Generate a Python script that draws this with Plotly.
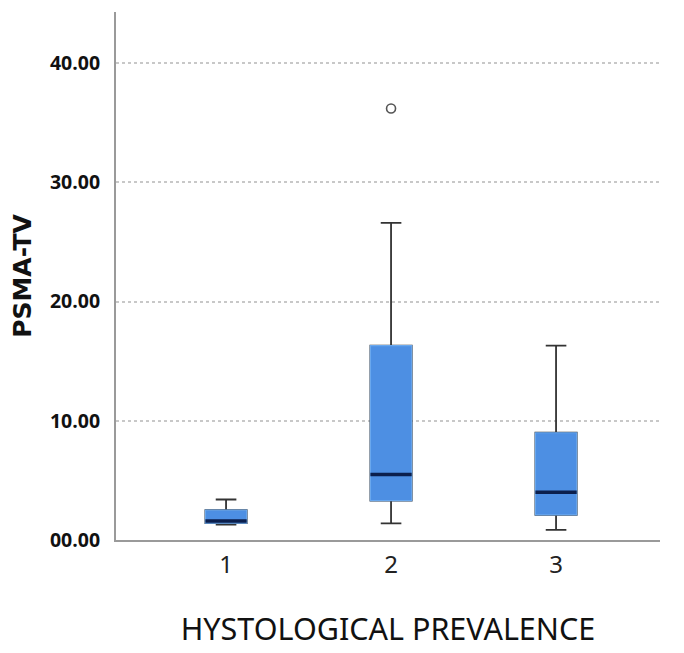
import plotly.graph_objects as go

# box statistics
groups = [1, 2, 3]
lower = [1.3, 1.4, 0.85]
q1 = [1.42, 3.3, 2.1]
median = [1.6, 5.5, 4.0]
q3 = [2.5, 16.3, 9.0]
upper = [3.4, 26.6, 16.3]
outlier_x = [2]
outlier_y = [36.2]

tick_vals = [0, 10, 20, 30, 40]
tick_text = ["00.00", "10.00", "20.00", "30.00", "40.00"]

BLUE = "#4d8fe3"
BOX_W = 0.25

fig = go.Figure()

# whiskers + caps (dark)
fig.add_trace(go.Box(
    x=groups, q1=q1, median=median, q3=q3,
    lowerfence=lower, upperfence=upper,
    width=BOX_W, whiskerwidth=0.5,
    fillcolor=BLUE, line=dict(color="#333333", width=1.8),
    hoverinfo="skip", showlegend=False,
))
# box body without dark outline
fig.add_trace(go.Box(
    x=groups, q1=q1, median=median, q3=q3,
    lowerfence=q1, upperfence=q3,
    width=BOX_W, whiskerwidth=0,
    fillcolor=BLUE, line=dict(color="#6aa8ee", width=1.2),
    hoverinfo="skip", showlegend=False,
))
# thick median bar
fig.add_trace(go.Box(
    x=groups, q1=median, median=median, q3=median,
    lowerfence=median, upperfence=median,
    width=BOX_W, whiskerwidth=0,
    fillcolor="#0b1f4d", line=dict(color="#0b1f4d", width=3.5),
    hoverinfo="skip", showlegend=False,
))
# outlier
fig.add_trace(go.Scatter(
    x=outlier_x, y=outlier_y, mode="markers",
    marker=dict(symbol="circle-open", size=9, color="#555555", line=dict(width=1.6)),
    showlegend=False,
))

# page body adds 8px, margins compensate
fig.update_layout(
    width=684, height=653,
    margin=dict(l=108, r=32, t=4, b=121),
    paper_bgcolor="white", plot_bgcolor="white",
    boxmode="overlay",
    font=dict(family="Open Sans", color="#111111"),
)
fig.update_xaxes(
    range=[0.333, 3.63], automargin=False,
    tickvals=groups, ticktext=[str(g) for g in groups],
    tickfont=dict(family="Noto Sans", size=24, color="#222222"),
    showline=True, linecolor="#9a9a9a", linewidth=2,
    showgrid=False, zeroline=False, ticks="", ticklabelstandoff=2,
    title=dict(text="HYSTOLOGICAL PREVALENCE",
               font=dict(family="Noto Sans", size=30.5, color="#111111"), standoff=40),
)
fig.update_yaxes(
    range=[0, 44.3], automargin=False,
    tickvals=tick_vals, ticktext=tick_text,
    tickfont=dict(family="Open Sans", size=19.5, color="#111111", weight="bold"),
    showline=True, linecolor="#9a9a9a", linewidth=2,
    showgrid=True, gridcolor="#c8c8c8", griddash="dot", gridwidth=1.5,
    zeroline=False, ticks="", ticklabelstandoff=10,
    title=dict(text="PSMA-TV",
               font=dict(family="DejaVu Sans", size=25, color="#111111", weight="bold"), standoff=12),
)

fig.write_html("out.html")
